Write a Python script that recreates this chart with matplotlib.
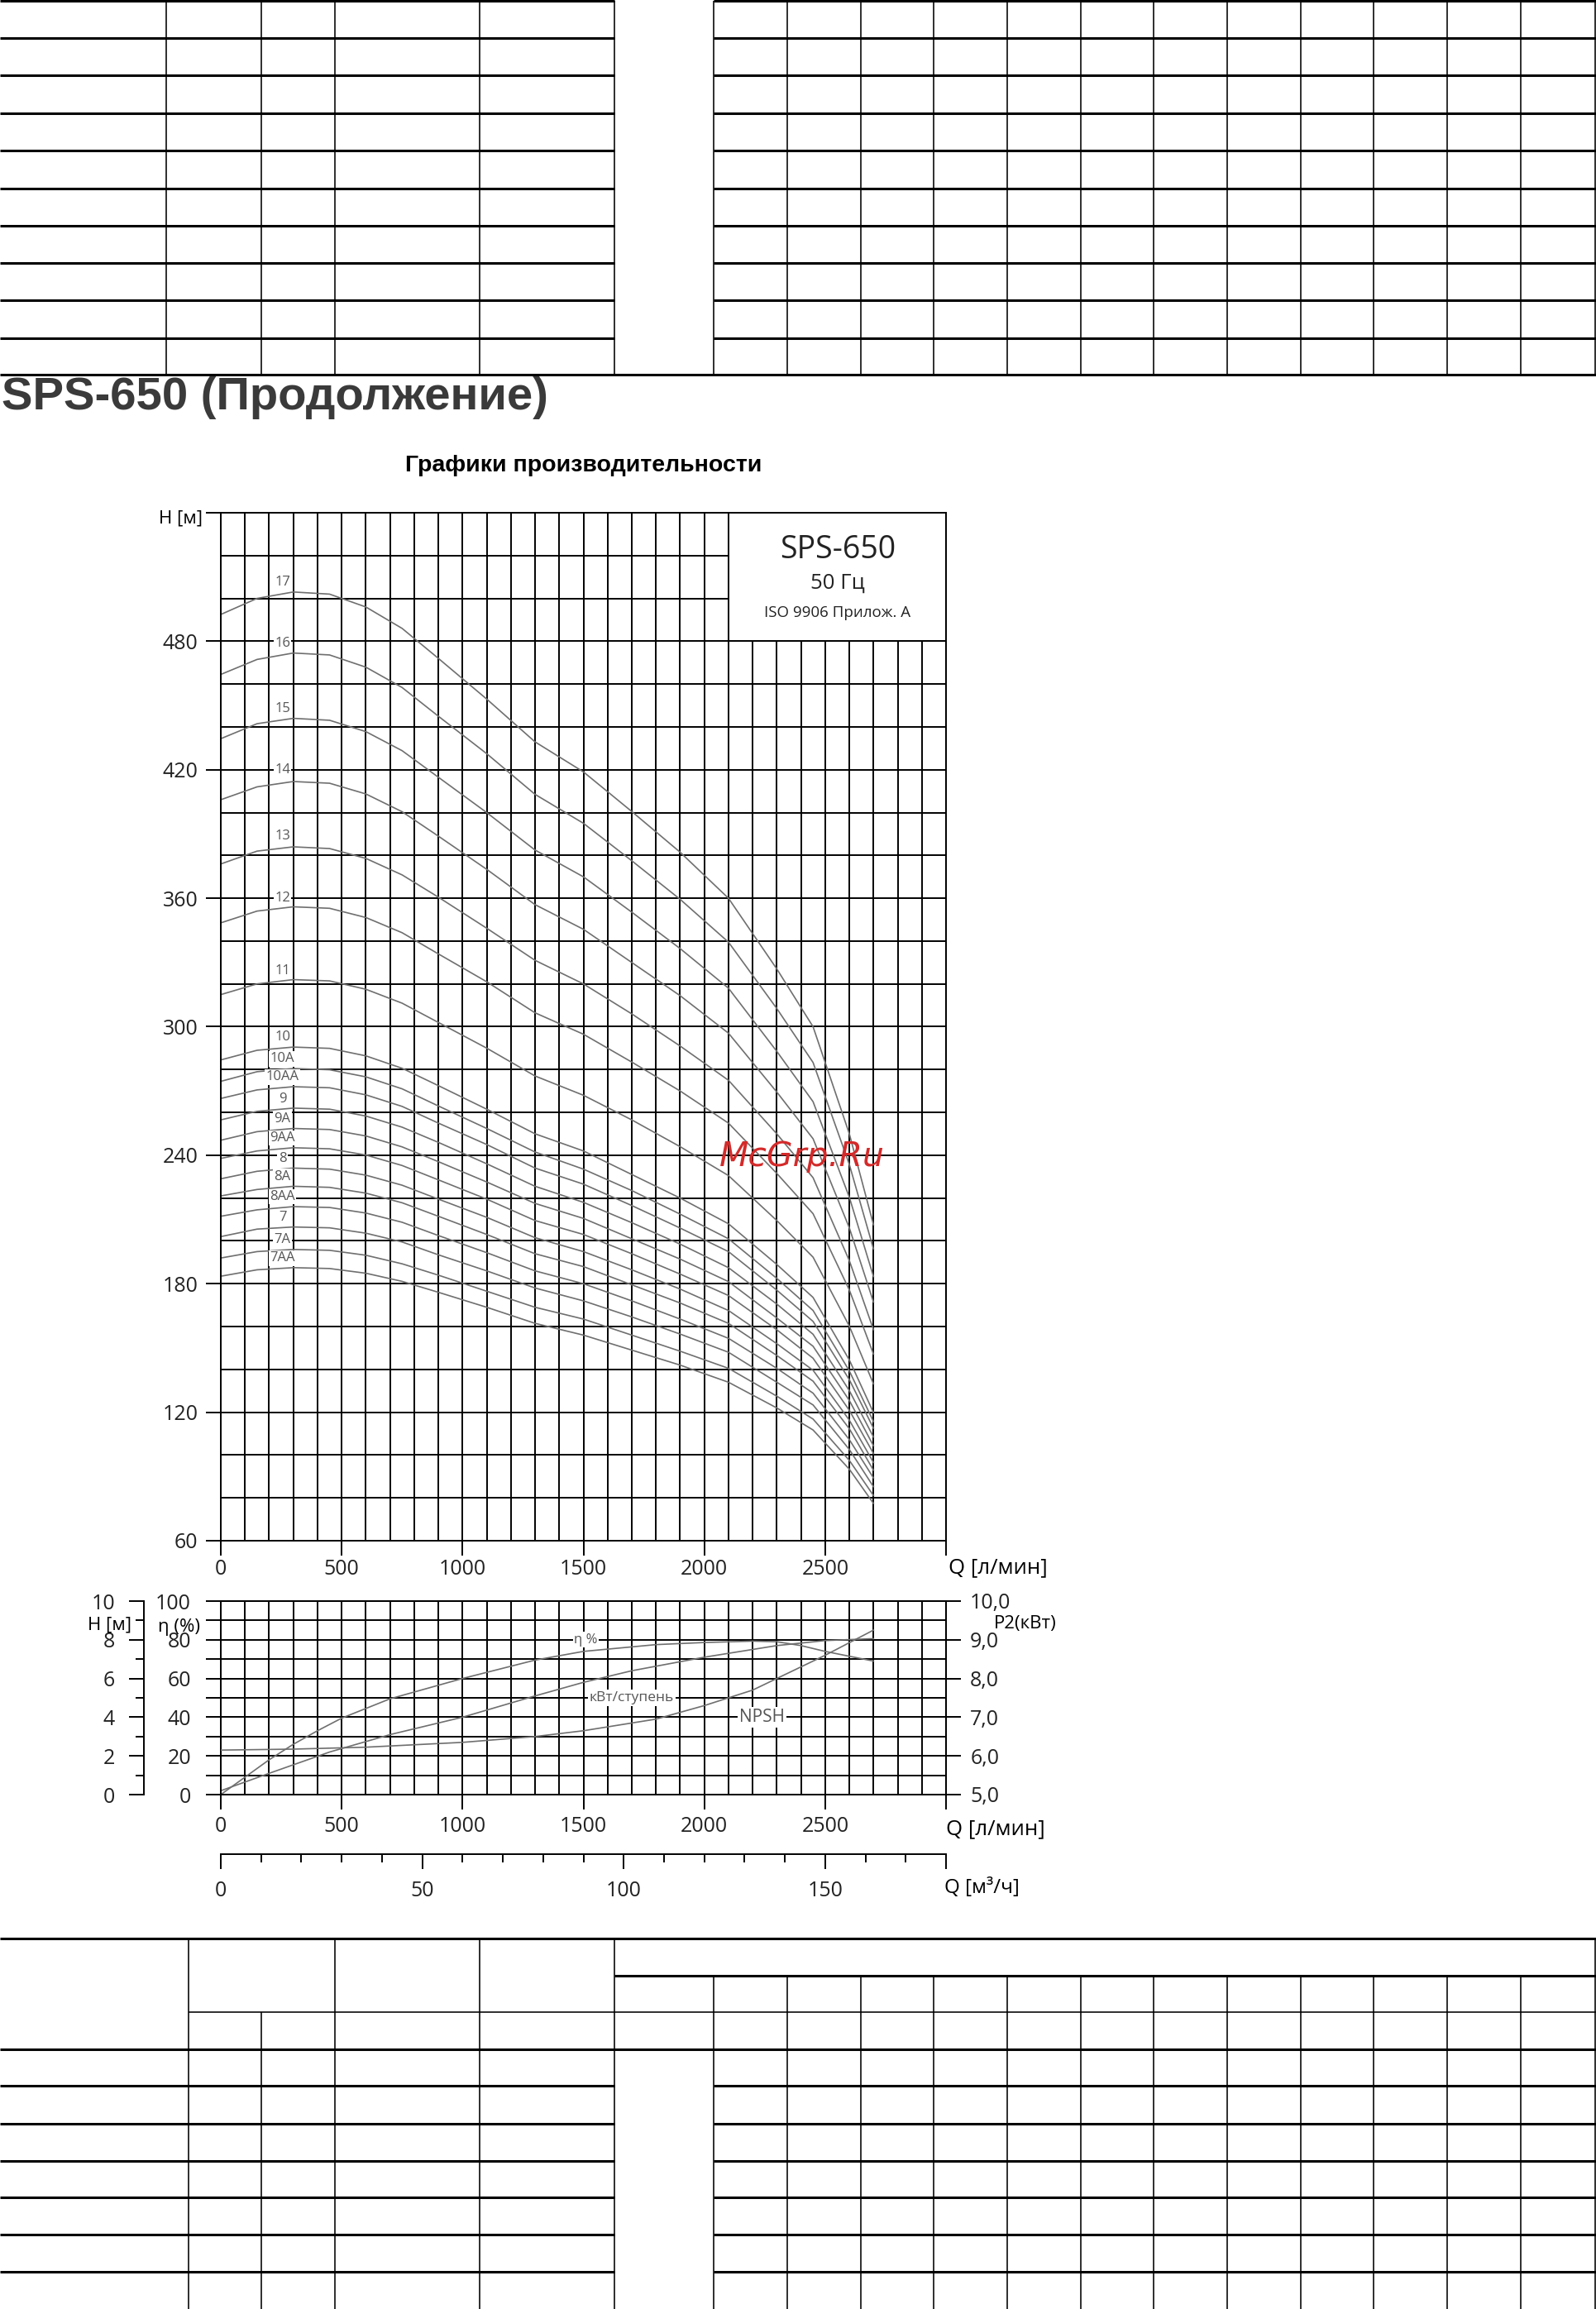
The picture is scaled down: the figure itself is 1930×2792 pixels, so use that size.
import matplotlib
matplotlib.use("Agg")
import matplotlib.pyplot as plt
from matplotlib import font_manager
from matplotlib.patches import Rectangle
from matplotlib.ticker import FixedLocator, FixedFormatter, MultipleLocator

W, H = 1931, 2792          # page size in px (dpi 100)
PT = 100 / 72              # px per point

_have = {f.name for f in font_manager.fontManager.ttflist}
SANS = "Open Sans" if "Open Sans" in _have else "DejaVu Sans"
HEAD = "Liberation Sans" if "Liberation Sans" in _have else "DejaVu Sans"

plt.rcParams.update({"font.family": [SANS, "DejaVu Sans"], "font.size": 18,
                     "xtick.color": "black", "ytick.color": "black",
                     "xtick.labelcolor": "#222", "ytick.labelcolor": "#222",
                     "axes.linewidth": 1.4})

# ---------------- main chart: H(Q) per number of stages ----------------
Q_PTS = [0, 150, 300, 450, 600, 750, 900, 1100, 1300, 1500, 1700, 1900,
         2100, 2300, 2450, 2600, 2700]
H17 = [492.5, 500, 503, 502, 496, 486, 472, 453, 433, 419, 400.5, 381.5, 360, 327, 300, 250, 207.5]
H16 = [464.5, 471.5, 474.5, 473.6, 467.9, 458.4, 445, 427.5, 408.5, 395, 377.5, 359.5, 339.5, 308.5, 283.3, 235.7, 196.2]
H15 = [434.5, 441.5, 444, 443.1, 437.8, 428.9, 416.5, 400, 382.5, 370, 353.5, 336.5, 318, 288.5, 265, 220.4, 183.3]
H14 = [406, 412, 414.5, 413.7, 408.7, 400.4, 389, 373.5, 357, 345.5, 330, 314.5, 297, 269.5, 247.7, 206.1, 171.4]
H13 = [376, 382, 384, 383.2, 378.6, 370.9, 360.5, 346, 331, 320, 306, 291, 275, 250, 229.5, 190.8, 158.5]
H12 = [348.5, 354, 356, 355.3, 351, 343.9, 334, 321, 306.5, 296.5, 283.5, 270, 255, 231.5, 212.7, 177.1, 147.1]
H11 = [315, 320, 322, 321.4, 317.5, 311, 302, 290, 277, 268, 256.5, 244, 230.5, 209.5, 192.4, 160.2, 133.2]
H10 = [284.5, 289, 290.5, 289.9, 286.4, 280.6, 272.5, 261.5, 250, 242, 231, 220, 208, 189, 173.6, 144.4, 119.8]
H10A = [274.5, 279, 280.5, 279.9, 276.6, 271, 263, 252.5, 241.5, 233.5, 223.5, 212.5, 201, 182.5, 167.5, 139.3, 115.6]
H10AA = [266.5, 270.5, 272, 271.5, 268.2, 262.8, 255, 245, 234, 226.5, 216.5, 206, 195, 177, 162.4, 135.2, 112.5]
H9 = [256.5, 260.5, 262, 261.5, 258.3, 253.1, 246, 236, 225.5, 218, 208.5, 198.5, 187.5, 170.5, 156.4, 130.1, 108.4]
H9A = [247, 251, 252.5, 252, 249, 243.9, 237, 227.5, 217.5, 210.5, 201, 191.5, 181, 164, 150.8, 125.5, 104.3]
H9AA = [238.5, 242, 243.5, 243, 240.1, 235.2, 228.5, 219.5, 209.5, 203, 194, 184.5, 174.5, 158.5, 145.2, 120.9, 100.7]
H8 = [229, 232.5, 234, 233.5, 230.7, 226, 219.5, 211, 201.5, 195, 186.5, 177.5, 167.5, 152, 139.6, 116.3, 96.5]
H8A = [221, 224, 225.5, 225, 222.3, 217.8, 211.5, 203, 194, 188, 179.5, 171, 161.5, 146.5, 134.5, 112.3, 92.9]
H8AA = [211.5, 214.5, 216, 215.6, 213, 208.7, 202.5, 194.5, 186, 180, 172, 163.5, 154.5, 140.5, 128.9, 107.2, 89.3]
H7 = [202, 205.5, 206.5, 206.1, 203.6, 199.5, 193.5, 186, 178, 172, 164.5, 156.5, 148, 134, 123.4, 102.6, 85.2]
H7A = [192, 195, 196, 195.6, 193.3, 189.3, 184, 176.5, 169, 163.5, 156, 148.5, 140.5, 127.5, 116.8, 97.5, 81.1]
H7AA = [183.5, 186.5, 187.5, 187.1, 184.9, 181.1, 176, 169, 161.5, 156, 149, 142, 134, 122, 111.7, 93.4, 77.4]

CURVE_NAMES = ["17", "16", "15", "14", "13", "12", "11", "10", "10A", "10AA",
               "9", "9A", "9AA", "8", "8A", "8AA", "7", "7A", "7AA"]
CURVE_H = [H17, H16, H15, H14, H13, H12, H11, H10, H10A, H10AA,
           H9, H9A, H9AA, H8, H8A, H8AA, H7, H7A, H7AA]
LABEL_H = [507.5, 479, 448.5, 420, 389, 360, 326, 295, 285, 276.5,
           266.4, 257, 248, 238.6, 230, 220.7, 211, 200.7, 191.9]

Q_TICKS = [0, 500, 1000, 1500, 2000, 2500, 3000]
Q_LABELS = ["0", "500", "1000", "1500", "2000", "2500", ""]
H_TICKS = [60, 120, 180, 240, 300, 360, 420, 480, 540]
H_LABELS = ["60", "120", "180", "240", "300", "360", "420", "480", ""]

# ---------------- lower chart: efficiency, power, NPSH ----------------
Q_ETA = [0, 100, 200, 300, 400, 500, 700, 1000, 1300, 1500, 1800, 2000,
         2200, 2300, 2400, 2500, 2600, 2700]
ETA = [0, 9, 18, 26, 33, 39.5, 49.5, 60, 69.5, 74, 77.5, 78.6, 79.3, 79,
       77, 74, 71.5, 69]
Q_KW = [0, 200, 450, 700, 1000, 1300, 1500, 1700, 2000, 2300, 2500, 2700]
KW = [5.1, 5.55, 6.1, 6.55, 7.0, 7.55, 7.9, 8.2, 8.55, 8.85, 8.98, 9.03]
Q_NPSH = [0, 300, 600, 1000, 1300, 1500, 1800, 2000, 2200, 2300, 2400,
          2500, 2600, 2700]
NPSH = [2.3, 2.35, 2.45, 2.7, 3.0, 3.3, 3.9, 4.6, 5.4, 6.0, 6.6, 7.2, 7.85, 8.5]

ETA_TICKS = [0, 20, 40, 60, 80, 100]
NPSH_TICKS = [0, 2, 4, 6, 8, 10]
P2_TICKS = [5, 6, 7, 8, 9, 10]
P2_LABELS = ["5,0", "6,0", "7,0", "8,0", "9,0", "10,0"]
M3H_TICKS = [0, 50, 100, 150, 180]
M3H_LABELS = ["0", "50", "100", "150", ""]

# ---------------- empty spec tables (page layout, px) ----------------
TOP_ROWS = [1, 46, 91, 137, 182, 228, 273, 318, 363, 409, 453]
TOP_LEFT_COLS = [201, 316, 405, 580, 743]
RIGHT_COLS = [863, 952, 1041, 1129, 1218, 1307, 1395, 1484, 1573, 1661,
              1750, 1839, 1929]
BOT_ROWS = [2522, 2568, 2613, 2657, 2702, 2747]

CURVE_C = "#6f6f6f"
GRID = dict(color="black", linewidth=1.4)


def frac(x0, y0, x1, y1):
    return [x0 / W, 1 - y1 / H, (x1 - x0) / W, (y1 - y0) / H]


fig = plt.figure(figsize=(W / 100, H / 100), dpi=100)
fig.patch.set_facecolor("white")

# main chart
ax = fig.add_axes(frac(267, 620, 1144, 1863))
ax.set_xlim(0, 3000)
ax.set_ylim(60, 540)
ax.xaxis.set_major_locator(FixedLocator(Q_TICKS))
ax.xaxis.set_major_formatter(FixedFormatter(Q_LABELS))
ax.xaxis.set_minor_locator(MultipleLocator(100))
ax.yaxis.set_major_locator(FixedLocator(H_TICKS))
ax.yaxis.set_major_formatter(FixedFormatter(H_LABELS))
ax.yaxis.set_minor_locator(MultipleLocator(20))
ax.set_axisbelow(True)
ax.grid(which="both", **GRID)
ax.tick_params(which="major", direction="out", length=13, width=1.4)
ax.tick_params(which="minor", length=0)
ax.tick_params(axis="x", pad=3)
ax.tick_params(axis="y", pad=7)
ax.add_patch(Rectangle((2100, 480), 900, 60, facecolor="white",
                       edgecolor="black", linewidth=1.4, zorder=1))
for name, h, ly in zip(CURVE_NAMES, CURVE_H, LABEL_H):
    ax.plot(Q_PTS, h, color=CURVE_C, lw=1.2, zorder=2,
            solid_joinstyle="round")
    ax.text(255, ly, name, fontsize=12, color="#555", ha="center",
            va="center", zorder=4,
            bbox=dict(boxstyle="square,pad=0.08", fc="white", ec="none"))

# lower chart
lo = frac(267, 1936, 1144, 2170)
axl = fig.add_axes(lo)
axl.set_xlim(0, 3000)
axl.set_ylim(0, 100)
axl.xaxis.set_major_locator(FixedLocator(Q_TICKS))
axl.xaxis.set_major_formatter(FixedFormatter(Q_LABELS))
axl.xaxis.set_minor_locator(MultipleLocator(100))
axl.yaxis.set_major_locator(FixedLocator(ETA_TICKS))
axl.yaxis.set_minor_locator(MultipleLocator(10))
axl.set_axisbelow(True)
axl.grid(which="both", **GRID)
axl.tick_params(which="both", direction="out", length=13, width=1.4)
axl.tick_params(axis="x", which="minor", length=0)
axl.tick_params(axis="x", pad=6)
axl.tick_params(axis="y", pad=13)
axl.plot(Q_ETA, ETA, color=CURVE_C, lw=1.2, zorder=2)
lab = dict(color="#555", ha="center", va="center", zorder=4,
           bbox=dict(boxstyle="square,pad=0.1", fc="white", ec="none"))
axl.text(1510, 80, "η %", fontsize=12, **lab)
axl.text(1700, 50, "кВт/ступень", fontsize=12.5, **lab)
axl.text(2240, 40, "NPSH", fontsize=15, **lab)

axp = axl.twinx()
axp.set_ylim(5, 10)
axp.yaxis.set_major_locator(FixedLocator(P2_TICKS))
axp.yaxis.set_major_formatter(FixedFormatter(P2_LABELS))
axp.tick_params(direction="out", length=13, width=1.4, pad=8)
axp.plot(Q_KW, KW, color=CURVE_C, lw=1.2)

axh = fig.add_axes(lo)
axh.patch.set_visible(False)
axh.set_xlim(0, 3000)
axh.set_ylim(0, 10)
for s in ("right", "top", "bottom"):
    axh.spines[s].set_visible(False)
axh.spines["left"].set_position(("outward", (267 - 174.5) / PT))
axh.xaxis.set_visible(False)
axh.yaxis.set_major_locator(FixedLocator(NPSH_TICKS))
axh.yaxis.set_minor_locator(MultipleLocator(1))
axh.tick_params(axis="y", which="major", direction="out", length=13,
                width=1.4, pad=12.5)
axh.tick_params(axis="y", which="minor", direction="out", length=7, width=1.4)
axh.plot(Q_NPSH, NPSH, color=CURVE_C, lw=1.2)

# m3/h scale
axm = fig.add_axes(frac(267, 2241, 1144, 2242))
axm.patch.set_visible(False)
axm.set_xlim(0, 180)
for s in ("left", "right", "top"):
    axm.spines[s].set_visible(False)
axm.set_yticks([])
axm.xaxis.set_major_locator(FixedLocator(M3H_TICKS))
axm.xaxis.set_major_formatter(FixedFormatter(M3H_LABELS))
axm.xaxis.set_minor_locator(MultipleLocator(10))
axm.tick_params(which="major", direction="out", length=13, width=1.4, pad=10)
axm.tick_params(which="minor", direction="out", length=7, width=1.4)

# page overlay in px: tables, headings, axis names
ov = fig.add_axes([0, 0, 1, 1], zorder=10)
ov.set_xlim(0, W)
ov.set_ylim(H, 0)
ov.axis("off")
ov.patch.set_visible(False)

THICK, THIN = 2.2, 1.15
for y in TOP_ROWS[:-1]:
    ov.hlines(y, 0, 743, color="black", lw=THICK)
    ov.hlines(y, 863, W, color="black", lw=THICK)
ov.hlines(TOP_ROWS[-1], 0, W, color="black", lw=THICK)
ov.vlines(TOP_LEFT_COLS + RIGHT_COLS, TOP_ROWS[0], TOP_ROWS[-1],
          color="black", lw=THIN)

ov.hlines(2344, 0, W, color="black", lw=THICK)
ov.hlines(2389, 743, W, color="black", lw=THICK)
ov.hlines(2433, 228, W, color="black", lw=THIN)
ov.hlines(2478, 0, W, color="black", lw=THICK)
for y in BOT_ROWS:
    ov.hlines(y, 0, 743, color="black", lw=THICK)
    ov.hlines(y, 863, W, color="black", lw=THICK)
ov.vlines([228, 405, 580, 743, 1929], 2344, H, color="black", lw=THIN)
ov.vlines([316], 2433, H, color="black", lw=THIN)
ov.vlines(RIGHT_COLS[:-1], 2389, H, color="black", lw=THIN)

ov.text(2, 481, "SPS-650 (Продолжение)", family=HEAD, fontsize=40.5,
        fontweight="bold", color="#3a3a3a", ha="left", va="center")
ov.text(706, 563, "Графики производительности", family=HEAD, fontsize=20.5,
        fontweight="bold", color="black", ha="center", va="center")

ov.text(1013, 665, "SPS-650", fontsize=27, color="#222", ha="center", va="center")
ov.text(1013, 705, "50 Гц", fontsize=18.5, color="#222", ha="center", va="center")
ov.text(1013, 741, "ISO 9906 Прилож. А", fontsize=13.5, color="#222",
        ha="center", va="center")

ov.text(245, 627, "H [м]", fontsize=16, ha="right", va="center")
ov.text(1147, 1896, "Q [л/мин]", fontsize=18.5, ha="left", va="center")
ov.text(1144, 2212, "Q [л/мин]", fontsize=18.5, ha="left", va="center")
ov.text(1142, 2283, "Q [м³/ч]", fontsize=17.5, ha="left", va="center")
ov.text(159, 1965, "H [м]", fontsize=16, ha="right", va="center")
ov.text(242, 1967, "η (%)", fontsize=16, ha="right", va="center")
ov.text(1202, 1963, "P2(кВт)", fontsize=16, ha="left", va="center")

ov.text(970, 1398, "McGrp.Ru", family="DejaVu Sans", style="italic",
        fontsize=29.5, color="#d42a2a", ha="center", va="center")

fig.savefig("out.png", dpi=100, facecolor="white")
